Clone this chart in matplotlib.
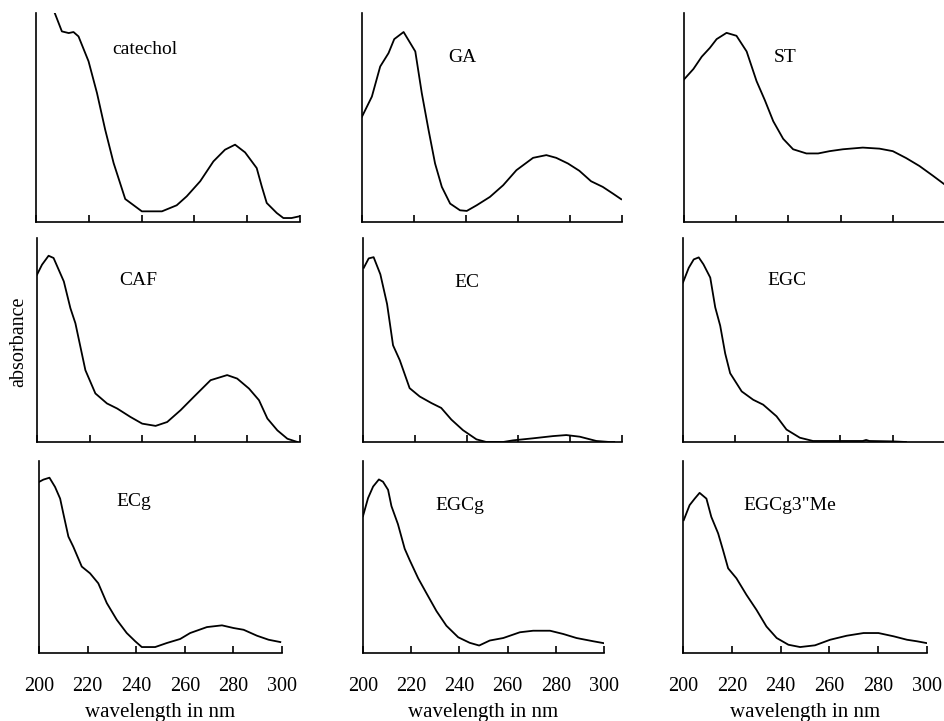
import numpy as np
import matplotlib
matplotlib.use("Agg")
import matplotlib.pyplot as plt

plt.rcParams['font.family'] = ['Liberation Serif', 'DejaVu Serif']

# spectra: wavelength (nm) and absorbance (fraction of panel height)
catechol_nm = [205.5, 207.1, 209.8, 212.4, 214.2, 216.1, 219.9, 223.1, 226.2, 229.4, 233.8, 240.1,
               247.7, 253.3, 257.1, 262.2, 267.2, 271.6, 275.4, 279.2, 283.6, 285.5, 287.4, 291.2,
               293.7, 296.8, 299.7]
catechol_abs = [1.06, 1.0, 0.912, 0.904, 0.909, 0.888, 0.769, 0.617, 0.442, 0.282, 0.110, 0.051,
                0.051, 0.080, 0.123, 0.195, 0.290, 0.346, 0.370, 0.333, 0.258, 0.171, 0.091, 0.043,
                0.019, 0.019, 0.027]

ga_nm = [200, 203.8, 207.0, 210.2, 212.4, 216.0, 220.5, 223.0, 225.6, 228.1, 230.7, 233.9, 237.7,
         240.3, 244.1, 249.2, 254.3, 259.4, 265.8, 270.9, 274.7, 279.2, 283.6, 288.1, 292.6, 296.5,
         299.7]
ga_abs = [0.504, 0.600, 0.744, 0.808, 0.875, 0.909, 0.816, 0.616, 0.440, 0.280, 0.168, 0.088, 0.056,
          0.053, 0.080, 0.120, 0.176, 0.248, 0.307, 0.320, 0.307, 0.280, 0.245, 0.195, 0.168, 0.136,
          0.109]

st_nm = [200, 203.6, 206.8, 209.9, 212.5, 216.3, 220.1, 224.0, 227.8, 231.0, 234.2, 238.0, 241.8,
         246.9, 251.4, 255.8, 260.9, 268.5, 274.9, 280.0, 285.1, 290.2, 295.3, 299.7]
st_abs = [0.682, 0.732, 0.791, 0.833, 0.875, 0.905, 0.891, 0.816, 0.674, 0.582, 0.482, 0.398, 0.348,
          0.328, 0.328, 0.339, 0.348, 0.356, 0.351, 0.339, 0.306, 0.268, 0.222, 0.181]

caf_nm = [200, 201.9, 204.4, 206.3, 210.2, 212.7, 214.6, 216.5, 218.4, 222.2, 226.6, 230.5, 235.5,
          240.0, 245.1, 249.5, 254.6, 259.6, 266.0, 272.3, 276.1, 280.6, 284.4, 287.6, 291.4, 295.2,
          299.0]
caf_abs = [0.820, 0.869, 0.913, 0.902, 0.787, 0.656, 0.582, 0.467, 0.352, 0.238, 0.189, 0.164, 0.123,
           0.090, 0.079, 0.098, 0.156, 0.221, 0.303, 0.328, 0.311, 0.262, 0.205, 0.115, 0.057, 0.016,
           0.0]

ec_nm = [200.3, 202.2, 204.1, 206.7, 209.3, 211.6, 214.2, 218.0, 221.9, 226.4, 230.2, 234.1, 238.6,
         243.8, 247.6, 254.1, 257.9, 265.6, 273.4, 278.5, 283.7, 290.1, 295.2, 297.0]
ec_abs = [0.854, 0.900, 0.906, 0.822, 0.676, 0.474, 0.401, 0.264, 0.223, 0.191, 0.167, 0.110, 0.058,
          0.013, 0.0, 0.0, 0.008, 0.018, 0.029, 0.034, 0.026, 0.005, 0.0, 0.0]

egc_nm = [200, 202.2, 204.1, 206.0, 207.8, 210.4, 212.3, 214.2, 216.1, 218.0, 222.4, 226.8, 230.6,
          235.7, 239.5, 244.6, 249.6, 259.7, 268.6, 269.9, 271.1, 280.0, 285.1]
egc_abs = [0.782, 0.854, 0.895, 0.905, 0.871, 0.806, 0.660, 0.570, 0.434, 0.337, 0.248, 0.207, 0.183,
           0.126, 0.061, 0.021, 0.005, 0.005, 0.005, 0.010, 0.005, 0.003, 0.0]

ecg_nm = [200, 201.8, 204.3, 206.6, 208.7, 210.0, 212.1, 214.1, 217.6, 221.0, 224.4, 227.9, 232.0,
          236.1, 239.6, 242.3, 247.8, 252.6, 258.1, 262.2, 269.1, 275.3, 280.1, 284.2, 289.7, 294.5,
          299.3]
ecg_abs = [0.891, 0.903, 0.913, 0.865, 0.804, 0.727, 0.606, 0.554, 0.450, 0.415, 0.363, 0.260, 0.173,
           0.104, 0.061, 0.031, 0.031, 0.052, 0.073, 0.104, 0.135, 0.144, 0.130, 0.121, 0.090, 0.069,
           0.057]

egcg_nm = [200, 202.1, 204.2, 206.6, 208.3, 210.4, 211.8, 214.5, 217.3, 219.4, 222.9, 226.3, 230.5,
           234.6, 239.5, 244.3, 248.2, 252.6, 258.2, 265.1, 270.6, 277.6, 283.1, 288.6, 295.6, 300]
egcg_abs = [0.713, 0.807, 0.867, 0.904, 0.892, 0.850, 0.765, 0.671, 0.543, 0.483, 0.389, 0.312, 0.218,
            0.142, 0.082, 0.053, 0.039, 0.065, 0.078, 0.108, 0.116, 0.116, 0.099, 0.078, 0.061, 0.051]

egcg3me_nm = [200.3, 202.7, 204.8, 206.8, 209.6, 211.6, 214.4, 216.4, 218.5, 221.9, 226.0, 230.1,
              234.2, 238.4, 243.2, 248.0, 254.1, 260.3, 267.1, 274.0, 280.1, 286.3, 291.8, 295.9, 299.7]
egcg3me_abs = [0.692, 0.770, 0.804, 0.834, 0.804, 0.709, 0.623, 0.536, 0.441, 0.389, 0.303, 0.225,
               0.138, 0.078, 0.043, 0.031, 0.040, 0.069, 0.090, 0.104, 0.104, 0.087, 0.069, 0.061, 0.052]

names = ["catechol", "GA", "ST", "CAF", "EC", "EGC", "ECg", "EGCg", 'EGCg3"Me']
spectra = [(catechol_nm, catechol_abs), (ga_nm, ga_abs), (st_nm, st_abs),
           (caf_nm, caf_abs), (ec_nm, ec_abs), (egc_nm, egc_abs),
           (ecg_nm, ecg_abs), (egcg_nm, egcg_abs), (egcg3me_nm, egcg3me_abs)]
tick_nm = [200, 220, 240, 260, 280, 300]

W, H = 945, 721
fig = plt.figure(figsize=(W / 100, H / 100), dpi=100)

# panel boxes in pixels: left, right, top, bottom
boxes = [(36, 300, 13, 222), (362, 622, 13, 222), (684, 945, 13, 222),
         (37, 300, 238, 442), (363, 622, 238, 442), (683, 945, 238, 442),
         (39, 282, 461, 653), (363, 604, 461, 653), (683, 927, 461, 653)]
# label centres in pixels
label_xy = [(145, 50), (462, 57), (785, 57),
            (138, 280), (467, 282), (787, 280),
            (134, 502), (460, 505), (790, 505)]

for i, (name, (nm, ab)) in enumerate(zip(names, spectra)):
    l, r, t, b = boxes[i]
    ax = fig.add_axes([l / W, (H - b) / H, (r - l) / W, (b - t) / H])
    ax.plot(nm, ab, color='black', lw=1.3)
    ax.set_xlim(200, 300)
    ax.set_ylim(0, 1)
    ax.spines['top'].set_visible(False)
    ax.spines['right'].set_visible(False)
    for s in ('left', 'bottom'):
        ax.spines[s].set_linewidth(1.2)
    ax.set_yticks([])
    ax.set_xticks(tick_nm)
    ax.tick_params(axis='x', direction='in', length=5, width=1.2)
    if i >= 6:
        ax.set_xticklabels([str(v) for v in tick_nm], fontsize=14.5)
        ax.tick_params(axis='x', pad=17)
        ax.set_xlabel("wavelength in nm", fontsize=15, labelpad=5)
    else:
        ax.set_xticklabels([])
    lx, ly = label_xy[i]
    fig.text(lx / W, (H - ly) / H, name, fontsize=14, ha='center', va='center')

fig.text(19 / W, (H - 342) / H, "absorbance", fontsize=14.5, rotation=90,
         ha='center', va='center')

fig.savefig("out.png", dpi=100)
